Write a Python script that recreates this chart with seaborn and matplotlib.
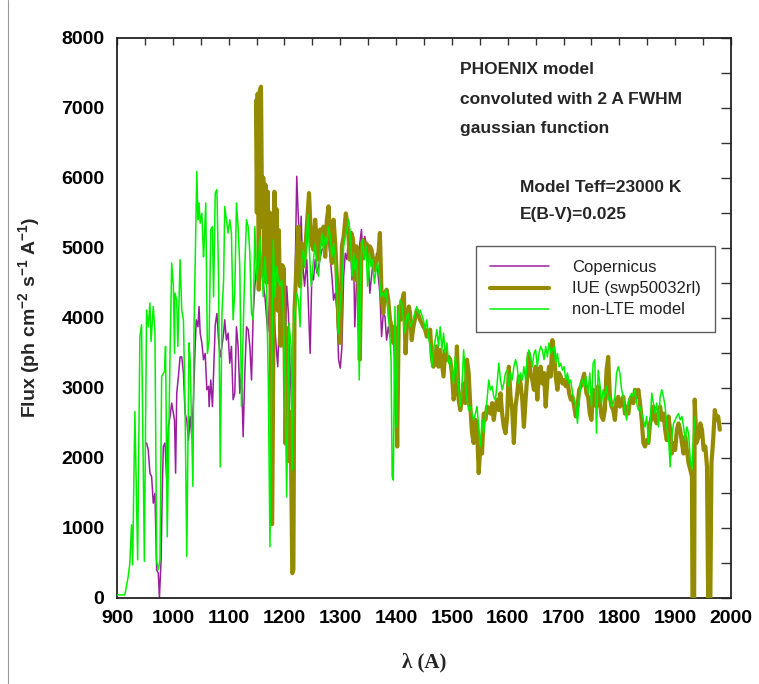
import numpy as np
import pandas as pd
import seaborn as sns
import matplotlib
matplotlib.use("Agg")
import matplotlib.pyplot as plt
from matplotlib.lines import Line2D
from matplotlib.ticker import MultipleLocator

# ---------------- data ----------------
model_wl = [900, 914, 920, 923, 926, 928, 932, 937, 941, 944, 949, 953, 956, 959, 961, 965, 968, 971, 974, 977,
            980, 985, 987, 990, 995, 998, 1001, 1003, 1004, 1007, 1009, 1013, 1016, 1019, 1022, 1025, 1029, 1031,
            1036, 1038, 1043, 1045, 1047, 1049, 1052, 1055, 1056, 1059, 1062, 1065, 1068, 1071, 1073, 1076, 1079,
            1082, 1085, 1088, 1091, 1093, 1096, 1099, 1102, 1105, 1108, 1111, 1114, 1117, 1120, 1123, 1126, 1129,
            1132, 1135, 1138, 1141, 1144, 1147, 1150, 1153, 1156, 1159, 1162, 1165, 1168, 1171, 1174, 1177, 1180,
            1183, 1186, 1189, 1192, 1195, 1198, 1201, 1204, 1208, 1212, 1214, 1216, 1219, 1222, 1225, 1228, 1231,
            1234, 1237, 1242, 1244, 1248, 1252, 1255, 1258, 1261, 1264, 1267, 1270, 1273, 1276, 1279, 1282, 1285,
            1288, 1291, 1294, 1297, 1300, 1303, 1306, 1309, 1312, 1315, 1318, 1321, 1324, 1326, 1329, 1332, 1334,
            1337, 1340, 1343, 1346, 1349, 1352, 1355, 1358, 1361, 1364, 1367, 1370, 1373, 1376, 1379, 1382, 1385,
            1388, 1391, 1393, 1395, 1397, 1398, 1401, 1404, 1407, 1410, 1413, 1416, 1419, 1422, 1425, 1431, 1437,
            1440, 1443, 1449, 1452, 1455, 1458, 1461, 1464, 1467, 1470, 1473, 1476, 1479, 1482, 1485, 1488, 1491,
            1494, 1497, 1500, 1503, 1506, 1509, 1512, 1515, 1518, 1521, 1524, 1527, 1530, 1533, 1536, 1539, 1542,
            1545, 1548, 1551, 1554, 1557, 1560, 1563, 1566, 1569, 1572, 1575, 1578, 1581, 1584, 1587, 1590, 1593,
            1596, 1599, 1602, 1605, 1608, 1611, 1614, 1617, 1620, 1623, 1626, 1629, 1632, 1635, 1638, 1641, 1644,
            1647, 1650, 1653, 1656, 1659, 1662, 1665, 1668, 1671, 1674, 1677, 1680, 1683, 1686, 1689, 1692, 1695,
            1698, 1701, 1704, 1707, 1710, 1713, 1716, 1719, 1722, 1725, 1728, 1731, 1734, 1737, 1740, 1744, 1747,
            1750, 1753, 1756, 1759, 1762, 1765, 1768, 1771, 1774, 1777, 1780, 1783, 1786, 1789, 1792, 1795, 1798,
            1801, 1804, 1807, 1810, 1813, 1816, 1819, 1822, 1825, 1828, 1831, 1834, 1837, 1840, 1843, 1846, 1849,
            1852, 1855, 1858, 1861, 1864, 1867, 1870, 1873, 1876, 1879, 1882, 1885, 1888, 1891, 1894, 1897, 1900,
            1903, 1906, 1909, 1912, 1915, 1918, 1921, 1924, 1927, 1930, 1933, 1936]
model_flux = [40, 40, 300, 490, 1040, 470, 2660, 540, 3730, 3900, 520, 4110, 3870, 4210, 3660, 4160, 3780, 520, 400, 540,
              3160, 3230, 3590, 870, 3470, 4780, 4450, 3490, 4350, 4250, 3590, 4830, 4110, 3970, 2680, 590, 3640, 3400,
              1590, 3870, 6090, 5400, 5640, 5350, 5490, 4870, 5020, 5640, 3490, 3680, 5260, 5300, 4300, 5780, 5830,
              4540, 1870, 4060, 4540, 5590, 5400, 5210, 5400, 5210, 3970, 4350, 5640, 5300, 4730, 2730, 3780, 4730,
              5400, 5300, 4920, 4060, 3970, 5300, 4540, 4730, 5160, 4730, 4300, 4870, 4450, 3110, 730, 3110, 5110,
              4300, 4730, 4540, 4450, 4540, 4060, 3110, 1440, 3920, 3590, 1830, 3870, 4100, 4350, 4250, 3870, 4830,
              4970, 4730, 5470, 5060, 4450, 4830, 5060, 4680, 4590, 4920, 5210, 4970, 5160, 5060, 5300, 5160, 4870,
              5060, 4870, 4350, 3780, 4250, 4450, 5020, 5160, 5260, 5400, 5210, 4590, 4920, 4680, 4830, 4350, 3110,
              4830, 5110, 4830, 5020, 4450, 4920, 4730, 4830, 4490, 4680, 4780, 4590, 4300, 4350, 4300, 4400, 4160,
              3870, 3400, 1730, 1680, 3400, 4160, 2440, 3970, 4250, 4210, 3970, 3780, 4020, 4060, 3870, 3970, 4160,
              4060, 4110, 3970, 3830, 3970, 3730, 3590, 3300, 3540, 3680, 3830, 3590, 3870, 3540, 3780, 3490, 3640,
              3350, 3400, 3210, 3060, 3440, 3250, 3020, 2730, 3020, 3540, 3160, 2830, 2680, 2730, 2630, 2540, 2630,
              2730, 2440, 2160, 2540, 2350, 2590, 2830, 3110, 2970, 3020, 2870, 2830, 3060, 3350, 3110, 2970, 3060,
              3210, 3250, 3020, 3210, 3110, 3300, 3400, 3300, 3060, 3210, 3110, 3300, 3110, 3440, 3540, 3440, 3300,
              3490, 3540, 3300, 3490, 3590, 3540, 3400, 3590, 3440, 3640, 3490, 3540, 3590, 3350, 3490, 3300, 3350,
              3250, 3300, 3110, 3210, 3060, 3110, 2920, 2830, 2730, 2490, 2830, 3060, 3110, 3020, 3160, 2920, 3210,
              2730, 3350, 3400, 2350, 3250, 3060, 2780, 2970, 2870, 3020, 2830, 2870, 2730, 2780, 2870, 3210, 3300,
              3210, 2970, 2870, 2680, 2540, 2780, 2870, 2920, 2870, 2970, 2780, 2680, 2730, 2630, 2540, 2440, 2590,
              2210, 2490, 2920, 2780, 2630, 2780, 2440, 2870, 2970, 2870, 2730, 2440, 2300, 1870, 2300, 2490, 2540,
              2590, 2630, 2540, 2590, 2440, 2250, 2440, 2350, 1970, 1830, 2350, 2590]

iue_wl = [1149, 1150.5, 1152, 1154, 1156, 1158, 1160, 1162, 1164, 1166, 1168, 1170, 1172, 1174, 1176, 1178, 1180,
          1182, 1184, 1186, 1188, 1190, 1193, 1196, 1199, 1202, 1205, 1208, 1211, 1214, 1216, 1218, 1222, 1225,
          1228, 1231, 1234, 1237, 1240, 1244, 1248, 1252, 1255, 1258, 1261, 1264, 1267, 1270, 1273, 1276, 1279,
          1282, 1285, 1288, 1291, 1294, 1297, 1300, 1303, 1306, 1310, 1314, 1317, 1320, 1323, 1326, 1329, 1332,
          1335, 1338, 1341, 1344, 1347, 1350, 1353, 1356, 1359, 1362, 1365, 1368, 1371, 1374, 1377, 1380, 1383,
          1386, 1389, 1392, 1395, 1397, 1399, 1402, 1405, 1408, 1411, 1414, 1417, 1420, 1423, 1425, 1428, 1431,
          1437, 1443, 1449, 1452, 1455, 1461, 1464, 1467, 1473, 1476, 1479, 1485, 1488, 1491, 1494, 1497, 1500,
          1503, 1506, 1509, 1512, 1515, 1518, 1521, 1524, 1527, 1530, 1533, 1536, 1539, 1542, 1545, 1548, 1551,
          1554, 1557, 1560, 1563, 1566, 1569, 1572, 1575, 1578, 1581, 1584, 1587, 1590, 1593, 1596, 1599, 1602,
          1605, 1608, 1611, 1614, 1617, 1620, 1623, 1626, 1629, 1632, 1635, 1638, 1641, 1644, 1647, 1650, 1653,
          1656, 1659, 1662, 1665, 1668, 1671, 1674, 1677, 1680, 1683, 1686, 1689, 1692, 1695, 1698, 1701, 1704,
          1707, 1710, 1713, 1716, 1719, 1722, 1725, 1728, 1731, 1734, 1737, 1741, 1744, 1747, 1750, 1753, 1756,
          1759, 1762, 1765, 1768, 1771, 1774, 1777, 1780, 1783, 1786, 1789, 1792, 1795, 1798, 1801, 1804, 1807,
          1810, 1813, 1816, 1819, 1822, 1825, 1828, 1831, 1834, 1837, 1840, 1843, 1846, 1849, 1852, 1855, 1858,
          1861, 1864, 1867, 1870, 1873, 1876, 1879, 1882, 1885, 1888, 1891, 1894, 1897, 1900, 1903, 1906, 1909,
          1912, 1915, 1918, 1921, 1924, 1927, 1930, 1931, 1934, 1935, 1938, 1942, 1945, 1948, 1951, 1954, 1957,
          1959, 1963, 1965, 1968, 1971, 1974, 1977, 1980]
iue_flux = [7100, 5500, 7200, 4400, 7250, 7300, 5300, 6000, 4600, 5900, 4500, 5800, 4800, 5500, 3200, 1050, 3500,
            5800, 4600, 5550, 4100, 5250, 3600, 4750, 4700, 2200, 3850, 1950, 2650, 350, 400, 4100, 4830, 5300,
            4450, 5060, 4730, 4920, 5300, 5780, 5060, 4970, 5400, 5060, 4830, 5260, 5060, 5300, 4870, 5400, 5590,
            5060, 4780, 5400, 5060, 4540, 3870, 3640, 5020, 5160, 5490, 5260, 4830, 5210, 5110, 4540, 5020, 4830,
            3400, 5020, 5110, 4920, 5060, 4830, 5020, 4970, 4830, 4680, 4830, 4870, 5210, 4300, 4060, 4350, 4400,
            4250, 3970, 3870, 3640, 3870, 3400, 2160, 4160, 3970, 4250, 4350, 3490, 4020, 4160, 4060, 3680, 3870,
            4110, 3970, 3870, 3830, 3730, 3830, 3440, 3300, 3590, 3300, 3540, 3160, 3540, 3400, 3440, 3400, 3210,
            2830, 2970, 3590, 2830, 2680, 2830, 3060, 2780, 3400, 3210, 2730, 2350, 2210, 2540, 2440, 1780, 2160,
            2060, 2630, 2540, 2730, 2680, 2630, 2780, 2540, 2730, 2830, 2680, 2920, 2630, 2440, 2350, 2590, 3300,
            2870, 2680, 2210, 2730, 2920, 3160, 3060, 2830, 2440, 2830, 3160, 3490, 3210, 3110, 2970, 3300, 2830,
            3210, 3300, 3060, 3210, 2730, 3110, 3300, 3160, 3680, 3490, 3160, 2970, 3210, 3160, 3060, 3110, 3020,
            3110, 2920, 2830, 2870, 2730, 2590, 2730, 2970, 3020, 3110, 3200, 2920, 2870, 2630, 2540, 2970, 2870,
            2730, 3020, 2830, 2590, 2540, 2680, 3250, 3440, 2870, 2730, 2680, 2540, 2830, 2870, 2730, 2780, 2870,
            2630, 2730, 2630, 2830, 2870, 2780, 2970, 2870, 2970, 2780, 2540, 2210, 2160, 2250, 2210, 2490, 2590,
            2730, 2540, 2490, 2630, 2730, 2540, 2630, 2400, 2250, 2590, 2400, 2060, 2210, 2110, 2400, 2490, 2400,
            2210, 2060, 2300, 2110, 1920, 1830, 1730, 0, 0, 2830, 2210, 2300, 2490, 2400, 2110, 2160, 1870,
            0, 0, 1920, 2250, 2680, 2540, 2590, 2400]

cop_wl = [953, 956, 959, 962, 965, 968, 971, 974, 976, 979, 981, 983, 986, 989, 992, 995, 998, 1001, 1003, 1005,
          1007, 1010, 1013, 1016, 1019, 1022, 1025, 1028, 1031, 1034, 1037, 1040, 1042, 1045, 1047, 1049, 1052,
          1055, 1058, 1061, 1064, 1065, 1068, 1071, 1073, 1076, 1079, 1082, 1085, 1088, 1091, 1093, 1096, 1099,
          1102, 1105, 1108, 1111, 1114, 1117, 1120, 1123, 1126, 1129, 1132, 1135, 1138, 1141, 1144, 1147, 1150,
          1153, 1156, 1160, 1165, 1170, 1175, 1180, 1185, 1188, 1192, 1195, 1198, 1201, 1204, 1207, 1210, 1213,
          1216, 1219, 1222, 1225, 1228, 1230, 1232, 1236, 1240, 1246, 1249, 1252, 1255, 1258, 1261, 1267, 1273,
          1279, 1285, 1288, 1291, 1294, 1297, 1300, 1303, 1306, 1309, 1312, 1315, 1318, 1321, 1324, 1326, 1329,
          1332, 1335, 1338, 1341, 1344, 1347, 1350, 1353, 1356, 1359, 1362, 1365, 1368, 1371, 1374, 1377, 1380,
          1383, 1386, 1389]
cop_flux = [2210, 2110, 1780, 1730, 1350, 1490, 400, 350, 0, 540, 1490, 2160, 2210, 1680, 2440, 2590, 2780, 2630,
            2540, 1780, 2920, 3160, 3440, 3440, 3210, 2630, 2540, 2250, 2590, 2300, 2830, 3590, 3970, 3870, 4160,
            3780, 3640, 3400, 3490, 2970, 3020, 2730, 3110, 2730, 3210, 3900, 4060, 3680, 3440, 3590, 3780, 3970,
            3680, 3780, 3350, 3590, 2830, 2920, 3870, 3590, 2920, 3210, 2300, 3210, 3870, 3830, 3590, 3110, 4060,
            4450, 4730, 4540, 5020, 4600, 4300, 3800, 4500, 4200, 3600, 3300, 4300, 4060, 3590, 3350, 4450, 4060,
            3300, 2730, 2160, 4540, 6020, 5400, 5060, 5450, 4830, 4450, 4830, 3490, 4590, 4540, 4830, 4640, 4730,
            4970, 5020, 5110, 4590, 4250, 4350, 4110, 3400, 3280, 3590, 4590, 4920, 4830, 5210, 5060, 4540, 4830,
            3870, 4490, 4830, 5060, 5260, 4830, 5160, 5020, 4830, 4350, 4590, 4830, 4730, 4920, 4590, 4350, 3730,
            4060, 4020, 3680, 3870, 3730]

series_names = ["Copernicus", "IUE (swp50032rl)", "non-LTE model"]
series_colors = ["#9A1E9E", "#958B00", "#00F000"]
x_ticks = list(range(900, 2001, 100))
y_ticks = list(range(0, 8001, 1000))

# ---------------- style ----------------
sns.set_style("white")
plt.rcParams["font.family"] = ["Liberation Sans", "DejaVu Sans"]
plt.rcParams["mathtext.fontset"] = "custom"
plt.rcParams["mathtext.rm"] = "Liberation Sans:bold"
plt.rcParams["mathtext.bf"] = "Liberation Sans:bold"
plt.rcParams["mathtext.it"] = "Liberation Sans:bold"

W, H = 759, 684
fig = plt.figure(figsize=(W / 100, H / 100), dpi=100)
ax = fig.add_axes([117 / W, 1 - 597.7 / H, (731 - 117) / W, (597.7 - 37.7) / H])

df_cop = pd.DataFrame({"wl": cop_wl, "flux": cop_flux})
df_iue = pd.DataFrame({"wl": iue_wl, "flux": iue_flux})
df_mod = pd.DataFrame({"wl": model_wl, "flux": model_flux})

sns.lineplot(data=df_cop, x="wl", y="flux", ax=ax, color=series_colors[0], lw=1.1,
             sort=False, estimator=None, label=series_names[0], zorder=2)
sns.lineplot(data=df_iue, x="wl", y="flux", ax=ax, color=series_colors[1], lw=3.0,
             sort=False, estimator=None, label=series_names[1], zorder=3)
sns.lineplot(data=df_mod, x="wl", y="flux", ax=ax, color=series_colors[2], lw=1.1,
             sort=False, estimator=None, label=series_names[2], zorder=4)

ax.set_xlim(900, 2000)
ax.set_ylim(0, 8000)
ax.set_xticks(x_ticks)
ax.set_yticks(y_ticks)
ax.xaxis.set_minor_locator(MultipleLocator(50))
ax.yaxis.set_minor_locator(MultipleLocator(500))
ax.tick_params(axis="both", which="both", direction="in", top=True, right=True,
               colors="#333333", width=1.0)
ax.tick_params(axis="y", which="both", length=7, pad=9)
ax.tick_params(axis="x", which="both", length=5, pad=9)
ax.tick_params(labelcolor="black")
for lab in ax.get_xticklabels() + ax.get_yticklabels():
    lab.set_fontweight("bold")
    lab.set_fontsize(14)
for s in ax.spines.values():
    s.set_color("#222222")
    s.set_linewidth(1.3)

ax.set_xlabel(r"λ (A)", fontsize=15, fontweight="bold",
              fontfamily=["Liberation Serif", "DejaVu Serif"], labelpad=18)
ax.set_ylabel(r"Flux (ph cm$^{-2}$ s$^{-1}$ A$^{-1}$)", fontsize=14, fontweight="bold", labelpad=14)

leg = ax.legend(loc="upper left", bbox_to_anchor=((476 - 117) / 614, (597.7 - 246) / 560),
                borderaxespad=0, fontsize=12, frameon=True, fancybox=False, shadow=False,
                handlelength=3.5, handletextpad=1.4, labelspacing=0.37, borderpad=0.85)
leg.get_frame().set_edgecolor("#333333")
leg.get_frame().set_linewidth(1.0)
for t in leg.get_texts():
    t.set_color("#222222")

def ftext(x, y, s, **kw):
    fig.text(x / W, 1 - y / H, s, ha="left", va="center", fontweight="bold", fontsize=12.5, **kw)

ftext(460, 70, "PHOENIX model")
ftext(460, 100, "convoluted with 2 A FWHM")
ftext(460, 128, "gaussian function")
ftext(520, 188, "Model Teff=23000 K")
ftext(520, 214, "E(B-V)=0.025")

fig.add_artist(Line2D([8 / W, 8 / W], [0, 1], color="#999999", lw=0.8))

fig.savefig("out.png", dpi=100, facecolor="white")
